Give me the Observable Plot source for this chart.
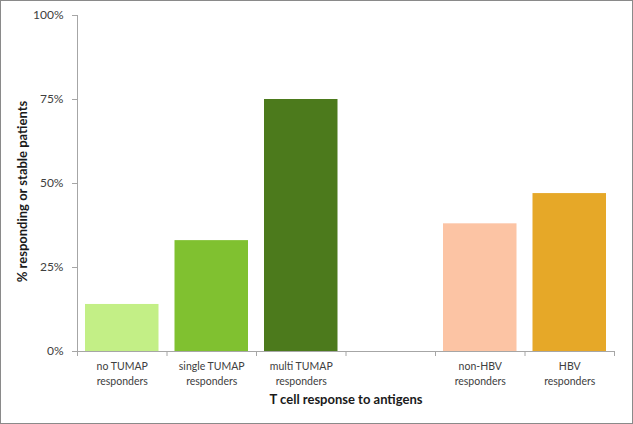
<!DOCTYPE html>
<html>
<head>
<meta charset="utf-8">
<script src="https://cdn.jsdelivr.net/npm/d3@7"></script>
<script src="https://cdn.jsdelivr.net/npm/@observablehq/plot@0.6"></script>
<style>
  html, body { margin: 0; padding: 0; background: #fff; }
  svg { display: block; outline: 1.5px solid #8a8a8a; outline-offset: -1.5px; }
</style>
</head>
<body>
<div id="chart"></div>
<script>
const categories = ["no TUMAP\nresponders", "single TUMAP\nresponders", "multi TUMAP\nresponders", "", "non-HBV\nresponders", "HBV\nresponders"];
const values = [0.14, 0.33, 0.75, null, 0.38, 0.47];
const colors = ["#c3ef86", "#80c130", "#4c7a1c", null, "#fcc4a4", "#e6a828"];
const yTicks = [0, 0.25, 0.5, 0.75, 1];
const yTitle = "% responding or stable patients";
const xTitle = "T cell response to antigens";

const data = categories.map((c, i) => ({i, label: c, value: values[i], color: colors[i]}));
const bars = data.filter(d => d.value != null);
const font = "Lato, 'Open Sans', sans-serif";

const plot = Plot.plot({
  width: 633,
  height: 424,
  marginLeft: 77,
  marginRight: 19,
  marginTop: 15,
  marginBottom: 73,
  style: {fontFamily: font, background: "#fff"},
  x: {domain: [0, categories.length], axis: null},
  y: {domain: [0, 1], axis: null},
  marks: [
    Plot.rectY(bars, {x1: "i", x2: d => d.i + 1, y: "value", fill: "color", insetLeft: 8, insetRight: 8}),
    Plot.axisY({ticks: yTicks, tickFormat: d3.format(".0%"), tickSize: 5, tickPadding: 9, stroke: "#a6a6a6", color: "#404040", fontSize: 12, label: null}),
    Plot.ruleX([0], {stroke: "#a6a6a6"}),
    Plot.ruleY([0], {stroke: "#a6a6a6"}),
    Plot.axisX({ticks: d3.range(0, categories.length + 1), tickFormat: () => "", tickSize: 5, stroke: "#a6a6a6", label: null}),
    Plot.text(data, {x: d => d.i + 0.5, y: 0, text: "label", lineAnchor: "top", dy: 8, lineHeight: 1.4, fontSize: 10.5, fill: "#404040"}),
    Plot.text([xTitle], {frameAnchor: "bottom", dy: 52, fontWeight: "bold", fontSize: 13, fill: "#1a1a1a"}),
    Plot.text([yTitle], {frameAnchor: "left", textAnchor: "middle", dx: -55, dy: 8, rotate: -90, fontWeight: "bold", fontSize: 13, fill: "#1a1a1a"})
  ]
});
document.getElementById("chart").append(plot);
</script>
</body>
</html>
